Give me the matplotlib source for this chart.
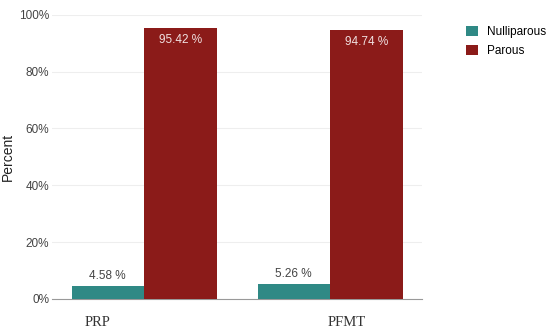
import matplotlib.pyplot as plt
import numpy as np

plt.rcParams['font.family'] = ['Liberation Sans', 'DejaVu Sans']

groups = ['PRP', 'PFMT']
nulliparous = [4.58, 5.26]
parous = [95.42, 94.74]
y_ticks = [0, 20, 40, 60, 80, 100]

teal = '#2f8985'
red = '#8b1b19'

fig = plt.figure(figsize=(5.5, 3.31), dpi=100)
ax = fig.add_axes([0.0945, 0.097, 0.673, 0.858])

x = np.arange(len(groups))
w = 0.39
b1 = ax.bar(x - w / 2, nulliparous, w, color=teal, label='Nulliparous', zorder=3)
b2 = ax.bar(x + w / 2, parous, w, color=red, label='Parous', zorder=3)

for rect, v in zip(b1, nulliparous):
    ax.text(rect.get_x() + rect.get_width() / 2, v + 1.5, f'{v:.2f} %',
            ha='center', va='bottom', fontsize=8.5, color='#444444')
for rect, v in zip(b2, parous):
    ax.text(rect.get_x() + rect.get_width() / 2, v - 2, f'{v:.2f} %',
            ha='center', va='top', fontsize=8.5, color='#f0e0e0', zorder=4)

ax.set_xlim(-0.495, 1.495)
ax.set_ylim(0, 100)
ax.set_yticks(y_ticks)
ax.set_yticklabels([f'{t}%' for t in y_ticks], fontsize=8.5, color='#444444')
ax.grid(axis='y', color='#eeeeee', linewidth=0.8, zorder=0)
ax.set_xticks([])
for s in ['top', 'right', 'left']:
    ax.spines[s].set_visible(False)
ax.spines['bottom'].set_color('#999999')
ax.tick_params(axis='y', length=0, pad=2)
ax.set_ylabel('Percent', fontsize=10, color='#222222', labelpad=3)

# category names sit off-centre in the original
for name, xp in zip(groups, [-0.25, 1.09]):
    ax.text(xp, -6, name, ha='center', va='top', fontsize=10.5,
            family=['Liberation Serif'], color='#333333')

ax.legend(loc='upper left', bbox_to_anchor=(1.09, 1.0), frameon=False,
          fontsize=8.5, handlelength=1.0, handleheight=1.0, labelspacing=0.6)

fig.savefig('out.png')
